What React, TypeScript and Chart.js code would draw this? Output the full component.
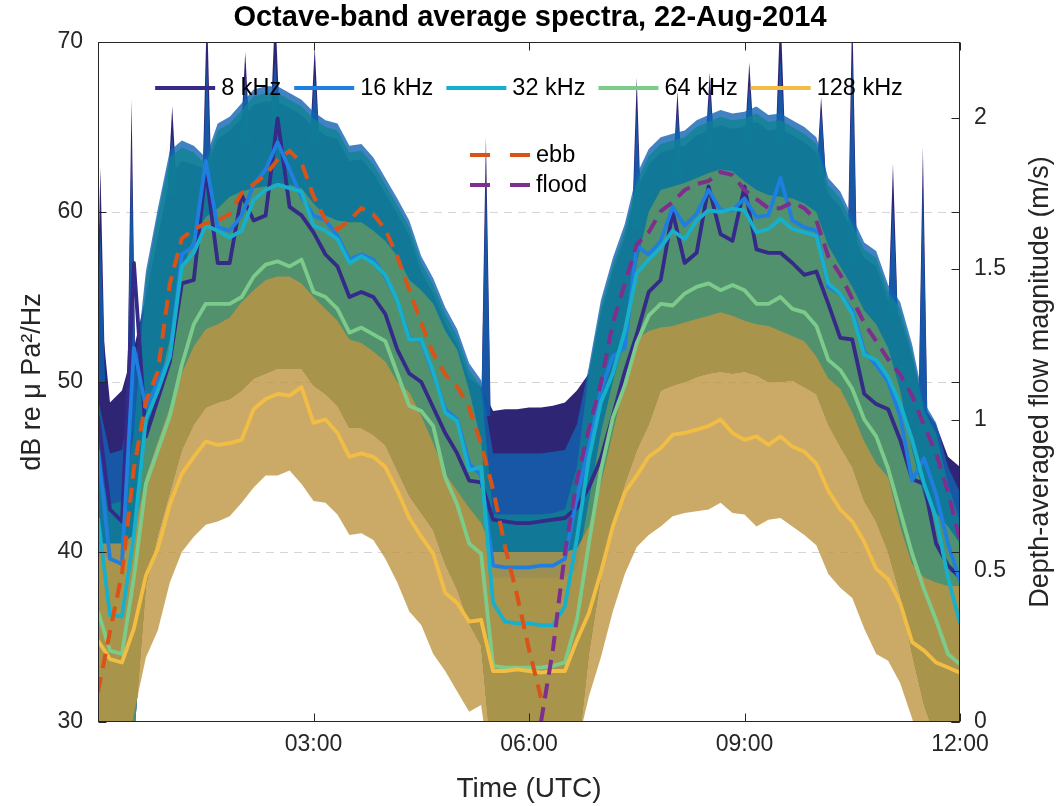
import React, { useEffect, useRef } from 'react';
import { Chart, registerables } from 'chart.js';

Chart.register(...registerables);

const FONT = '"Liberation Sans", Arial, Helvetica, sans-serif';
const INK = '#262626';

// Time axis: minutes after 00:00 UTC
const times = [
  0, 10, 20, 30, 40, 50, 60, 70, 80, 90,
  100, 110, 120, 130, 140, 150, 160, 170, 180, 190,
  200, 210, 220, 230, 240, 250, 260, 270, 280, 290,
  300, 310, 320, 330, 340, 350, 360, 370, 380, 390,
  400, 410, 420, 430, 440, 450, 460, 470, 480, 490,
  500, 510, 520, 530, 540, 550, 560, 570, 580, 590,
  600, 610, 620, 630, 640, 650, 660, 670, 680, 690,
  700, 710, 720,
];
const xTickValues = [0, 180, 360, 540, 720];
const dbTickValues = [30, 40, 50, 60, 70];
const flowTickValues = [0, 0.5, 1, 1.5, 2];

const seriesLabels = ['8 kHz', '16 kHz', '32 kHz', '64 kHz', '128 kHz'];
const lineColors = ['#352a87', '#1f7fe0', '#17b0cc', '#7dcb8a', '#f2bd45'];
const bandColors = [
  'rgba(28,20,105,0.92)',
  'rgba(17,100,179,0.8)',
  'rgba(16,130,148,0.8)',
  'rgba(97,151,100,0.8)',
  'rgba(190,149,66,0.8)',
];

// Mean levels (dB re uPa^2/Hz)
const line8 = [
  48.0, 42.5, 41.8, 57.0, 46.8, 49.0, 51.2, 55.8, 56.0, 62.5,
  57.0, 57.0, 61.0, 59.5, 59.8, 65.5, 60.3, 59.8, 58.8, 57.5,
  56.8, 55.0, 55.3, 55.0, 54.0, 51.9, 50.5, 50.0, 48.5, 47.0,
  45.8, 44.2, 44.1, 41.9, 41.8, 41.7, 41.7, 41.8, 41.9, 42.0,
  42.6, 43.8, 45.5, 48.0, 50.6, 52.8, 55.3, 56.0, 60.0, 57.0,
  57.6, 61.5, 58.7, 58.3, 61.5, 57.8, 57.6, 57.6, 57.0, 56.3,
  56.5, 54.6, 52.6, 52.5, 49.3, 48.7, 48.4, 46.6, 44.3, 44.0,
  40.5, 39.2, 38.5,
];
const line16 = [
  46.0, 39.6, 39.3, 52.0, 48.5, 50.0, 51.5, 57.5, 58.0, 63.0,
  59.1, 58.9, 59.8, 61.6, 62.5, 64.1, 62.5, 60.9, 59.8, 59.5,
  58.6, 57.2, 57.5, 57.2, 56.2, 54.8, 52.6, 52.4, 50.5, 48.4,
  47.8, 45.2, 44.5, 39.2, 39.1, 39.1, 39.1, 39.2, 39.2, 39.6,
  43.2, 46.2, 49.5, 51.5, 52.0, 58.0, 57.5, 58.3, 60.3, 59.2,
  59.9, 61.3, 60.1, 60.1, 60.8, 59.7, 59.8, 62.0, 59.5, 59.1,
  58.9, 55.6, 55.2, 54.2, 51.8, 51.0, 50.0, 48.0, 44.2, 45.5,
  43.4, 40.5, 38.3,
];
const line32 = [
  42.0, 36.3, 36.2, 41.0, 47.8, 49.5, 51.5, 56.8, 57.6, 59.2,
  58.9, 58.5, 58.9, 60.7, 61.3, 61.6, 61.4, 61.2, 59.2, 58.9,
  58.4, 57.0, 57.4, 57.0, 56.3, 54.8, 52.5, 52.5, 50.6, 48.2,
  47.7, 44.8, 45.0, 37.0, 35.9, 35.8, 35.8, 35.7, 35.7, 36.8,
  40.8, 45.5, 48.8, 50.5, 53.0, 56.4, 57.2, 57.9, 58.9, 58.4,
  59.5, 60.1, 60.0, 60.2, 60.1, 58.8, 59.0, 59.6, 59.0, 58.8,
  58.6, 55.8, 55.2, 54.0, 51.6, 51.3, 50.3, 48.7, 46.6, 44.0,
  42.0, 38.5, 35.8,
];
const line64 = [
  36.5, 34.2, 34.0, 38.5, 44.0, 46.0, 48.0, 51.0, 53.4, 54.6,
  54.6, 54.6, 55.0, 56.2, 56.9, 57.1, 56.8, 57.2, 55.3, 55.0,
  54.3, 52.9, 53.2, 52.8, 52.4, 50.5, 48.6, 48.3, 47.4, 44.4,
  42.8, 40.5, 39.9, 33.3, 33.2, 33.2, 33.2, 33.2, 33.3, 33.5,
  36.0, 40.5, 44.8, 47.9, 49.8, 52.3, 53.9, 54.6, 54.5, 55.2,
  55.6, 55.8, 55.4, 55.7, 55.4, 54.6, 54.6, 55.0, 54.3, 54.1,
  53.3, 51.3, 50.7, 49.6, 47.8, 46.8, 44.9, 42.4, 39.9, 37.8,
  36.0, 34.0, 33.4,
];
const line128 = [
  34.8, 33.7, 33.5, 35.5, 38.6, 40.2, 42.8, 44.6, 45.6, 46.5,
  46.3, 46.4, 46.6, 48.4, 49.0, 49.3, 49.2, 49.7, 47.6, 47.8,
  47.0, 45.6, 45.8, 45.6, 45.0, 43.6, 42.0, 40.9, 39.9, 37.6,
  37.0, 35.9, 36.0, 33.0, 33.0, 33.1, 33.0, 32.9, 33.0, 33.0,
  34.8, 36.4, 38.8, 41.5, 43.5, 44.5, 45.6, 46.1, 46.9, 47.0,
  47.2, 47.4, 47.8, 47.0, 46.6, 46.8, 46.3, 46.8, 46.2, 45.9,
  45.2, 43.6, 42.5, 41.8, 40.6, 39.0, 38.4, 37.0, 34.7, 34.2,
  33.5, 33.2, 32.9,
];

// Upper edges of the shaded spread bands
const upper8 = [
  56.0, 48.8, 49.5, 52.0, 55.0, 58.5, 62.0, 63.0, 62.8, 62.5,
  64.3, 64.8, 65.5, 66.3, 66.5, 66.5, 66.1, 65.7, 65.0, 64.5,
  64.3, 63.0, 63.1, 62.3, 61.1, 59.9, 58.6, 56.5, 55.2, 53.5,
  52.2, 50.2, 49.7, 48.3, 48.4, 48.4, 48.5, 48.5, 48.6, 48.8,
  49.5, 50.5, 54.0, 56.5, 58.5, 61.3, 62.8, 63.5, 63.7, 63.9,
  64.5, 64.8, 65.1, 64.9, 65.0, 65.3, 64.8, 64.9, 64.5, 64.1,
  63.5, 61.1, 60.3, 58.8, 57.3, 56.8, 54.8, 53.8, 51.5, 48.5,
  47.5, 45.6, 45.0,
];
const upper16 = [
  49.0, 45.8, 46.0, 50.0, 56.5, 60.2, 63.6, 64.2, 63.9, 63.2,
  65.2, 65.6, 66.4, 67.2, 67.4, 67.4, 67.0, 66.6, 65.9, 65.4,
  65.2, 63.9, 64.0, 63.2, 62.0, 60.8, 59.5, 57.4, 56.1, 54.4,
  53.1, 51.1, 50.1, 45.8, 45.8, 45.8, 45.8, 45.8, 45.9, 46.0,
  47.5, 50.9, 54.8, 57.3, 59.3, 62.2, 63.7, 64.4, 64.6, 64.8,
  65.4, 65.7, 66.0, 65.8, 65.9, 66.2, 65.7, 65.8, 65.4, 65.0,
  64.4, 62.0, 61.2, 59.7, 58.2, 57.7, 55.7, 54.7, 52.2, 48.8,
  47.6, 45.0, 43.5,
];
const upper32 = [
  45.0, 42.8, 43.0, 47.0, 56.0, 59.8, 63.2, 63.8, 63.5, 62.8,
  64.8, 65.2, 66.0, 66.8, 67.0, 67.0, 66.6, 66.2, 65.5, 65.0,
  64.8, 63.5, 63.6, 62.8, 61.6, 60.4, 59.1, 57.0, 55.7, 54.0,
  52.7, 50.7, 49.7, 42.2, 42.2, 42.2, 42.2, 42.2, 42.3, 42.5,
  45.0, 50.5, 54.4, 56.9, 58.9, 61.8, 63.3, 64.0, 64.2, 64.4,
  65.0, 65.3, 65.6, 65.4, 65.5, 65.8, 65.3, 65.4, 65.0, 64.6,
  64.0, 61.6, 60.8, 59.3, 57.8, 57.3, 55.3, 54.3, 51.8, 48.3,
  47.0, 44.0, 41.8,
];
const upper64 = [
  40.0, 39.5, 39.5, 41.0, 47.0, 49.5, 52.5, 56.5, 58.5, 59.7,
  60.2, 60.9, 61.2, 61.4, 61.5, 61.7, 61.6, 61.4, 60.5, 59.8,
  59.5, 59.4, 59.4, 58.9, 58.3, 57.4, 56.0, 55.4, 54.6, 53.0,
  51.9, 49.5, 46.5, 38.5, 38.5, 38.5, 38.5, 38.5, 38.5, 38.5,
  39.0, 43.0, 47.0, 50.0, 52.5, 57.0, 60.0, 61.3, 61.5, 61.7,
  62.0, 62.3, 62.5, 62.4, 61.8, 61.3, 61.0, 60.9, 60.8, 60.5,
  60.0, 58.0, 56.8, 55.6, 54.2, 53.4, 52.0, 49.5, 46.0, 43.2,
  42.3, 41.5, 40.5,
];
const upper128 = [
  40.5, 40.5, 40.5, 41.0, 44.4, 46.5, 48.5, 50.5, 52.1, 53.1,
  53.4, 53.8, 54.7, 55.4, 56.0, 56.2, 56.2, 55.8, 55.0, 54.3,
  53.6, 52.5, 52.3, 51.8, 51.2, 50.0, 49.4, 48.0, 46.4, 44.6,
  43.6, 42.6, 41.7, 40.0, 40.0, 40.0, 40.0, 40.0, 40.0, 40.0,
  40.2, 41.5, 44.0, 47.0, 50.0, 52.5, 53.0, 53.2, 53.3, 53.5,
  53.7, 53.9, 54.1, 53.9, 53.6, 53.4, 53.3, 53.0, 52.7, 52.4,
  51.5, 50.2, 49.6, 48.2, 46.5, 45.2, 44.4, 41.5, 39.3, 38.5,
  38.2, 38.0, 38.0,
];
// Lower edges: the 8-64 kHz bands share one visible lower edge, 128 kHz has its own
const lowerBand = [
  27.0, 27.0, 27.0, 29.0, 38.0, 41.0, 43.5, 46.0, 47.5, 48.5,
  48.8, 49.0, 49.5, 50.2, 50.5, 50.8, 50.8, 50.8, 49.8, 49.3,
  48.6, 47.3, 47.3, 46.9, 46.3, 44.8, 43.3, 42.3, 41.3, 39.3,
  37.8, 35.8, 34.5, 27.0, 27.0, 27.0, 27.0, 27.0, 27.0, 27.0,
  27.5, 34.0, 38.5, 41.5, 44.0, 46.0, 47.5, 49.5, 49.8, 50.0,
  50.3, 50.5, 50.6, 50.5, 50.6, 50.4, 50.0, 50.0, 50.1, 49.7,
  49.3, 47.5, 46.2, 45.0, 43.0, 41.8, 40.0, 37.5, 34.0, 31.0,
  29.0, 27.0, 27.0,
];
const lower128 = [
  26.0, 26.0, 26.0, 30.5, 33.8, 35.4, 38.2, 40.0, 40.9, 41.6,
  41.8, 42.1, 42.9, 43.8, 44.5, 44.5, 44.8, 44.0, 43.0, 42.9,
  42.2, 41.0, 41.1, 40.7, 39.6, 38.2, 36.5, 35.7, 34.0, 33.0,
  31.8, 30.6, 31.0, 26.0, 26.0, 26.0, 26.0, 26.0, 26.0, 26.0,
  28.5, 31.5, 33.8, 36.5, 38.7, 40.3, 41.0, 41.5, 42.1, 42.3,
  42.4, 42.5, 42.9, 42.3, 42.2, 41.5, 41.9, 42.0, 41.5, 41.0,
  40.4, 38.7, 37.9, 37.3, 35.5, 34.0, 33.6, 32.3, 30.2, 28.0,
  26.0, 26.0, 26.0,
];

// Short transient spikes in the 8 and 16 kHz spread (minutes, dB)
const spikeTimes = [2, 28, 62, 91, 123, 148, 181, 324, 450, 484, 511, 544, 570, 604, 630, 664, 689];
const spikeBases = [50, 47, 61, 61, 64, 65, 64, 48, 59, 62, 63.5, 64, 64, 62, 57, 54, 47];
const spikePeaks8 = [62.6, 66.6, 66.2, 72, 69.4, 72, 69.7, 64.4, 67.9, 67.1, 68.2, 68.8, 72, 66.8, 72, 62.8, 63.8];
const spikePeaks16 = [59, 64, 64.5, 69, 68, 69, 68, 62, 66, 66, 67, 67.5, 69, 66, 69, 60.5, 61.5];

// Depth-averaged flow magnitude (m/s)
const flowLabels = ['ebb', 'flood'];
const flowColors = ['#d95319', '#7e2f8e'];
const ebb = [
  0.10, 0.30, 0.49, 0.84, 1.06, 1.16, 1.45, 1.60, 1.63, 1.65,
  1.66, 1.68, 1.75, 1.78, 1.81, 1.86, 1.89, 1.85, 1.74, 1.66,
  1.63, 1.66, 1.70, 1.68, 1.63, 1.54, 1.43, 1.32, 1.22, 1.15,
  1.11, 1.04, 0.92, 0.77, 0.58, 0.42, 0.24, 0.08, null, null,
  null, null, null, null, null, null, null, null, null, null,
  null, null, null, null, null, null, null, null, null, null,
  null, null, null, null, null, null, null, null, null, null,
  null, null, null,
];
const flood = [
  null, null, null, null, null, null, null, null, null, null,
  null, null, null, null, null, null, null, null, null, null,
  null, null, null, null, null, null, null, null, null, null,
  null, null, null, null, null, null, null, 0.00, 0.24, 0.56,
  0.80, 0.97, 1.12, 1.32, 1.45, 1.58, 1.62, 1.69, 1.72, 1.76,
  1.78, 1.79, 1.82, 1.81, 1.76, 1.73, 1.70, 1.70, 1.72, 1.70,
  1.66, 1.54, 1.48, 1.40, 1.32, 1.26, 1.20, 1.15, 1.08, 0.98,
  0.89, 0.76, 0.60,
];

const SPIKE_HALF_WIDTH = 4;
const LEGEND_FONT = 23.5;
const TICK_FONT = 23;
const LABEL_FONT = 27;
const XLABEL_FONT = 28;
const TITLE_FONT = 29;

const pts = (ys: (number | null)[]) => times.map((t, i) => ({ x: t, y: ys[i] }));

function spikePts(peaks: number[] | null) {
  const out: { x: number; y: number | null }[] = [];
  spikeTimes.forEach((t, k) => {
    const b = spikeBases[k];
    out.push({ x: t - SPIKE_HALF_WIDTH, y: b });
    out.push({ x: t, y: peaks ? peaks[k] : b });
    out.push({ x: t + SPIKE_HALF_WIDTH, y: b });
    out.push({ x: t + SPIKE_HALF_WIDTH + 0.5, y: null });
  });
  return out;
}

const hidden = { borderColor: 'rgba(0,0,0,0)', borderWidth: 0, pointRadius: 0, fill: false };

function buildDatasets() {
  const ds: any[] = [];
  const band = (lower: any[], upper: any[], color: string, order: number) => {
    ds.push({ ...hidden, data: lower, order });
    ds.push({ ...hidden, data: upper, order, fill: '-1', backgroundColor: color });
  };
  band(pts(lowerBand), pts(upper8), bandColors[0], 20);
  band(spikePts(null), spikePts(spikePeaks8), bandColors[0], 19);
  band(pts(lowerBand), pts(upper16), bandColors[1], 18);
  band(spikePts(null), spikePts(spikePeaks16), bandColors[1], 17);
  band(pts(lowerBand), pts(upper32), bandColors[2], 16);
  band(pts(lowerBand), pts(upper64), bandColors[3], 15);
  band(pts(lower128), pts(upper128), bandColors[4], 14);
  const lines = [line8, line16, line32, line64, line128];
  lines.forEach((arr, i) => {
    ds.push({
      label: seriesLabels[i],
      data: pts(arr),
      borderColor: lineColors[i],
      borderWidth: 3.8,
      pointRadius: 0,
      fill: false,
      tension: 0,
      borderJoinStyle: 'round',
      order: 6 - i,
    });
  });
  [ebb, flood].forEach((arr, i) => {
    ds.push({
      label: flowLabels[i],
      data: pts(arr),
      yAxisID: 'y1',
      borderColor: flowColors[i],
      borderWidth: 4,
      borderDash: [15, 9],
      pointRadius: 0,
      fill: false,
      tension: 0,
      spanGaps: false,
      order: 1 - i,
    });
  });
  return ds;
}

const decorPlugin = {
  id: 'decor',
  beforeDatasetsDraw(chart: any) {
    const { ctx, chartArea: a, scales } = chart;
    ctx.save();
    ctx.strokeStyle = '#d4d4d4';
    ctx.lineWidth = 1;
    ctx.setLineDash([8, 6]);
    for (const v of dbTickValues) {
      const py = Math.round(scales.y.getPixelForValue(v)) + 0.5;
      if (py <= a.top + 2 || py >= a.bottom - 2) continue;
      ctx.beginPath();
      ctx.moveTo(a.left, py);
      ctx.lineTo(a.right, py);
      ctx.stroke();
    }
    ctx.restore();
  },
  afterDatasetsDraw(chart: any) {
    const { ctx, chartArea: a, scales } = chart;
    ctx.save();
    ctx.setLineDash([]);
    ctx.strokeStyle = INK;
    ctx.lineWidth = 1;
    const L = Math.round(a.left) + 0.5;
    const R = Math.round(a.right) - 0.5;
    const T = Math.round(a.top) + 0.5;
    const B = Math.round(a.bottom) - 0.5;
    ctx.strokeRect(L, T, R - L, B - T);
    const tk = 8;
    ctx.beginPath();
    for (const v of dbTickValues) {
      const py = Math.round(scales.y.getPixelForValue(v)) + 0.5;
      ctx.moveTo(L, py); ctx.lineTo(L + tk, py);
      ctx.moveTo(R, py); ctx.lineTo(R - tk, py);
    }
    for (const v of flowTickValues) {
      const py = Math.round(scales.y1.getPixelForValue(v)) + 0.5;
      ctx.moveTo(R, py); ctx.lineTo(R - tk, py);
    }
    for (const v of xTickValues) {
      const px = Math.round(scales.x.getPixelForValue(v)) + 0.5;
      ctx.moveTo(px, B); ctx.lineTo(px, B - tk);
      ctx.moveTo(px, T); ctx.lineTo(px, T + tk);
    }
    ctx.stroke();

    // Frequency legend (centered in plot, no box)
    ctx.font = `${LEGEND_FONT}px ${FONT}`;
    ctx.textBaseline = 'middle';
    ctx.textAlign = 'left';
    const sw = 60, gap = 6, spacing = 13;
    const widths = seriesLabels.map((l) => ctx.measureText(l).width);
    const total = widths.reduce((s, w) => s + sw + gap + w, 0) + spacing * (seriesLabels.length - 1);
    let x = (a.left + a.right) / 2 - total / 2;
    const ly = a.top + 46;
    seriesLabels.forEach((l, i) => {
      ctx.strokeStyle = lineColors[i];
      ctx.lineWidth = 4;
      ctx.beginPath();
      ctx.moveTo(x, ly);
      ctx.lineTo(x + sw, ly);
      ctx.stroke();
      ctx.fillStyle = '#000';
      ctx.fillText(l, x + sw + gap, ly + 1);
      x += sw + gap + widths[i] + spacing;
    });

    // Flow legend
    const fx = 470;
    flowLabels.forEach((l, i) => {
      const fy = a.top + 113 + i * 30;
      ctx.strokeStyle = flowColors[i];
      ctx.lineWidth = 4;
      ctx.setLineDash([20, 20]);
      ctx.beginPath();
      ctx.moveTo(fx, fy);
      ctx.lineTo(fx + 60, fy);
      ctx.stroke();
      ctx.setLineDash([]);
      ctx.fillStyle = '#000';
      ctx.fillText(l, fx + 66, fy + 1);
    });

    // Right axis title (reads bottom to top)
    ctx.save();
    ctx.translate(1041, (a.top + a.bottom) / 2);
    ctx.rotate(-Math.PI / 2);
    ctx.font = `${LABEL_FONT}px ${FONT}`;
    ctx.fillStyle = INK;
    ctx.textAlign = 'center';
    ctx.textBaseline = 'middle';
    ctx.fillText('Depth-averaged flow magnitude (m/s)', 0, 0);
    ctx.restore();

    ctx.restore();
  },
};

function fmtTime(v: number) {
  if (v === 0) return '';
  const h = Math.floor(v / 60);
  return `${String(h).padStart(2, '0')}:00`;
}

export default function App() {
  const ref = useRef<HTMLCanvasElement>(null);
  useEffect(() => {
    if (!ref.current) return;
    const tickFont = { family: FONT, size: TICK_FONT };
    const chart = new Chart(ref.current, {
      type: 'line',
      data: { datasets: buildDatasets() },
      options: {
        responsive: false,
        animation: false,
        events: [],
        layout: { padding: 0 },
        plugins: {
          legend: { display: false },
          tooltip: { enabled: false },
          title: {
            display: true,
            text: 'Octave-band average spectra, 22-Aug-2014',
            color: '#000',
            font: { family: FONT, size: TITLE_FONT, weight: 'bold', lineHeight: 1.2 },
            padding: { top: 1, bottom: 6.2 },
          },
        },
        scales: {
          x: {
            type: 'linear',
            min: 0,
            max: 720,
            afterBuildTicks: (s: any) => { s.ticks = xTickValues.map((v) => ({ value: v })); },
            afterFit: (s: any) => { s.height = 84; },
            grid: { display: false, drawTicks: false },
            border: { display: false },
            ticks: { font: tickFont, color: INK, padding: 9, maxRotation: 0, autoSkip: false, callback: (v: any) => fmtTime(Number(v)) },
            title: { display: true, text: 'Time (UTC)', color: INK, font: { family: FONT, size: XLABEL_FONT }, padding: { top: 0, bottom: 0 } },
          },
          y: {
            type: 'linear',
            position: 'left',
            min: 30,
            max: 70,
            afterBuildTicks: (s: any) => { s.ticks = dbTickValues.map((v) => ({ value: v })); },
            afterFit: (s: any) => { s.width = 98; },
            grid: { display: false, drawTicks: false },
            border: { display: false },
            ticks: { font: tickFont, color: INK, padding: 15 },
            title: { display: true, text: 'dB re μ Pa²/Hz', color: INK, font: { family: FONT, size: LABEL_FONT }, padding: { top: 16, bottom: 0 } },
          },
          y1: {
            type: 'linear',
            position: 'right',
            min: 0,
            max: 2.25,
            afterBuildTicks: (s: any) => { s.ticks = flowTickValues.map((v) => ({ value: v })); },
            afterFit: (s: any) => { s.width = 100; },
            grid: { display: false, drawTicks: false },
            border: { display: false },
            ticks: { font: tickFont, color: INK, padding: 14, callback: (v: any) => String(v) },
          },
        },
      } as any,
      plugins: [decorPlugin as any],
    });
    return () => chart.destroy();
  }, []);
  return (
    <div style={{ position: 'fixed', left: 0, top: 0, width: 1060, height: 806, background: '#fff' }}>
      <canvas ref={ref} width={1060} height={806} style={{ display: 'block' }} />
    </div>
  );
}
